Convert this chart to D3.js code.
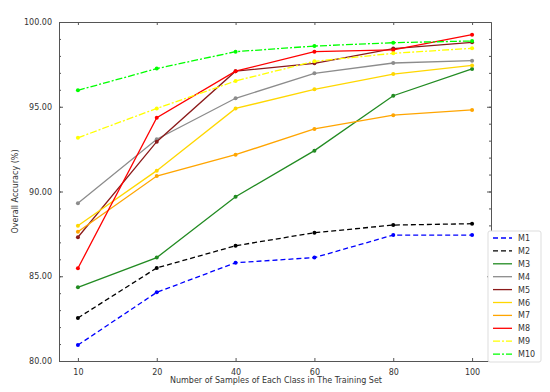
<html lang="en">
  <head>
    <meta charset="utf-8">
    <title>Overall Accuracy</title>
    <script src="https://d3js.org/d3.v7.min.js"></script>
    <style>
      body { margin: 0; background: #fff; }
      text { font-family: "DejaVu Sans", sans-serif; }
    </style>
  </head>
  <body>
    <script type="text/javascript">
      var w = 550;
      var h = 392;
      var margin = {top: 22, right: 59, bottom: 31, left: 59};

      // data
      var samples = [10, 20, 40, 60, 80, 100];
      var names = ["M1", "M2", "M3", "M4", "M5", "M6", "M7", "M8", "M9", "M10"];
      var M1 = [80.94, 84.05, 85.80, 86.10, 87.43, 87.43];
      var M2 = [82.54, 85.49, 86.80, 87.57, 88.02, 88.10];
      var M3 = [84.35, 86.10, 89.69, 92.41, 95.65, 97.23];
      var M4 = [89.30, 93.08, 95.50, 96.97, 97.58, 97.72];
      var M5 = [87.30, 92.94, 97.10, 97.56, 98.43, 98.80];
      var M6 = [87.98, 91.23, 94.90, 96.03, 96.93, 97.44];
      var M7 = [87.63, 90.91, 92.17, 93.69, 94.50, 94.81];
      var M8 = [85.47, 94.35, 97.10, 98.25, 98.35, 99.25];
      var M9 = [93.17, 94.90, 96.52, 97.68, 98.15, 98.45];
      var M10 = [95.97, 97.25, 98.25, 98.58, 98.78, 98.88];
      var yTicks = [80, 85, 90, 95, 100];

      var colors = ["#0000ff", "#000000", "#228b22", "#8c8c8c", "#8b1a1a", "#ffd700", "#ffa500", "#ff0000", "#ffff00", "#00ff00"];
      var dashes = ["5,3", "5,3", null, null, null, null, null, null, "7,2,2,2", "7,2,2,2"];
      var series = [M1, M2, M3, M4, M5, M6, M7, M8, M9, M10];

      var innerWidth = w - margin.left - margin.right;
      var innerHeight = h - margin.top - margin.bottom;

      var xScale = d3.scalePoint()
                     .domain(samples)
                     .range([0, innerWidth])
                     .padding(0.24);
      var yScale = d3.scaleLinear()
                     .domain([80, 100])
                     .range([innerHeight, 0]);

      var svg = d3.select("body")
                  .append("svg")
                  .attr("width", w)
                  .attr("height", h);
      var g = svg.append("g")
                 .attr("transform", `translate(${margin.left},${margin.top})`);

      // axes (ticks pointing in)
      var axisColor = "#555";
      var xBottom = d3.axisBottom(xScale).tickSizeInner(-3).tickSizeOuter(0).tickPadding(8);
      var xTop = d3.axisTop(xScale).tickSizeInner(-3).tickSizeOuter(0);
      var yLeft = d3.axisLeft(yScale).tickValues(yTicks).tickSizeInner(-4).tickSizeOuter(0)
                    .tickPadding(7).tickFormat(d3.format(".2f"));
      var yRight = d3.axisRight(yScale).tickValues(yTicks).tickSizeInner(-4).tickSizeOuter(0);
      var yMinorL = d3.axisLeft(yScale).ticks(20).tickSizeInner(-2).tickSizeOuter(0);
      var yMinorR = d3.axisRight(yScale).ticks(20).tickSizeInner(-2).tickSizeOuter(0);

      g.append("g").attr("transform", `translate(0,${innerHeight})`).call(xBottom);
      g.append("g").attr("class", "bare").call(xTop);
      g.append("g").call(yLeft);
      g.append("g").attr("class", "bare").call(yMinorL);
      g.append("g").attr("class", "bare").attr("transform", `translate(${innerWidth},0)`).call(yRight);
      g.append("g").attr("class", "bare").attr("transform", `translate(${innerWidth},0)`).call(yMinorR);
      g.selectAll(".bare .tick text").remove();
      g.selectAll(".domain, .tick line").attr("stroke", axisColor).attr("stroke-width", 1);
      g.selectAll(".tick text").attr("fill", "#333").style("font-size", "8px")
       .style("font-family", "DejaVu Sans, sans-serif");

      // lines
      var line = d3.line()
                   .x(function (d, i) { return xScale(samples[i]); })
                   .y(function (d) { return yScale(d); });
      series.forEach(function (s, k) {
          g.append("path")
           .datum(s)
           .attr("d", line)
           .attr("fill", "none")
           .attr("stroke", colors[k])
           .attr("stroke-width", 1.3)
           .attr("stroke-dasharray", dashes[k]);
          g.selectAll(null)
           .data(s)
           .enter()
           .append("circle")
           .attr("cx", function (d, i) { return xScale(samples[i]); })
           .attr("cy", function (d) { return yScale(d); })
           .attr("r", 2)
           .attr("fill", colors[k]);
      });

      // axis labels
      svg.append("text")
         .attr("x", margin.left + innerWidth / 2 + 1)
         .attr("y", 383)
         .attr("text-anchor", "middle")
         .attr("fill", "#333")
         .style("font-size", "8px")
         .text("Number of Samples of Each Class in The Training Set");
      svg.append("text")
         .attr("transform", `translate(18,${margin.top + innerHeight / 2}) rotate(-90)`)
         .attr("text-anchor", "middle")
         .attr("fill", "#333")
         .style("font-size", "8px")
         .text("Overall Accuracy (%)");

      // legend
      var lg = svg.append("g").attr("transform", "translate(488,231)");
      lg.append("rect")
        .attr("width", 53)
        .attr("height", 131)
        .attr("rx", 2)
        .attr("fill", "#fff")
        .attr("stroke", "#ddd");
      names.forEach(function (n, k) {
          var y = 7 + k * 12.9;
          lg.append("line")
            .attr("x1", 5).attr("x2", 24)
            .attr("y1", y).attr("y2", y)
            .attr("stroke", colors[k])
            .attr("stroke-width", 1.3)
            .attr("stroke-dasharray", dashes[k]);
          lg.append("text")
            .attr("x", 30)
            .attr("y", y + 3)
            .attr("fill", "#333")
            .style("font-size", "8px")
            .text(n);
      });
    </script>
  </body>
</html>
